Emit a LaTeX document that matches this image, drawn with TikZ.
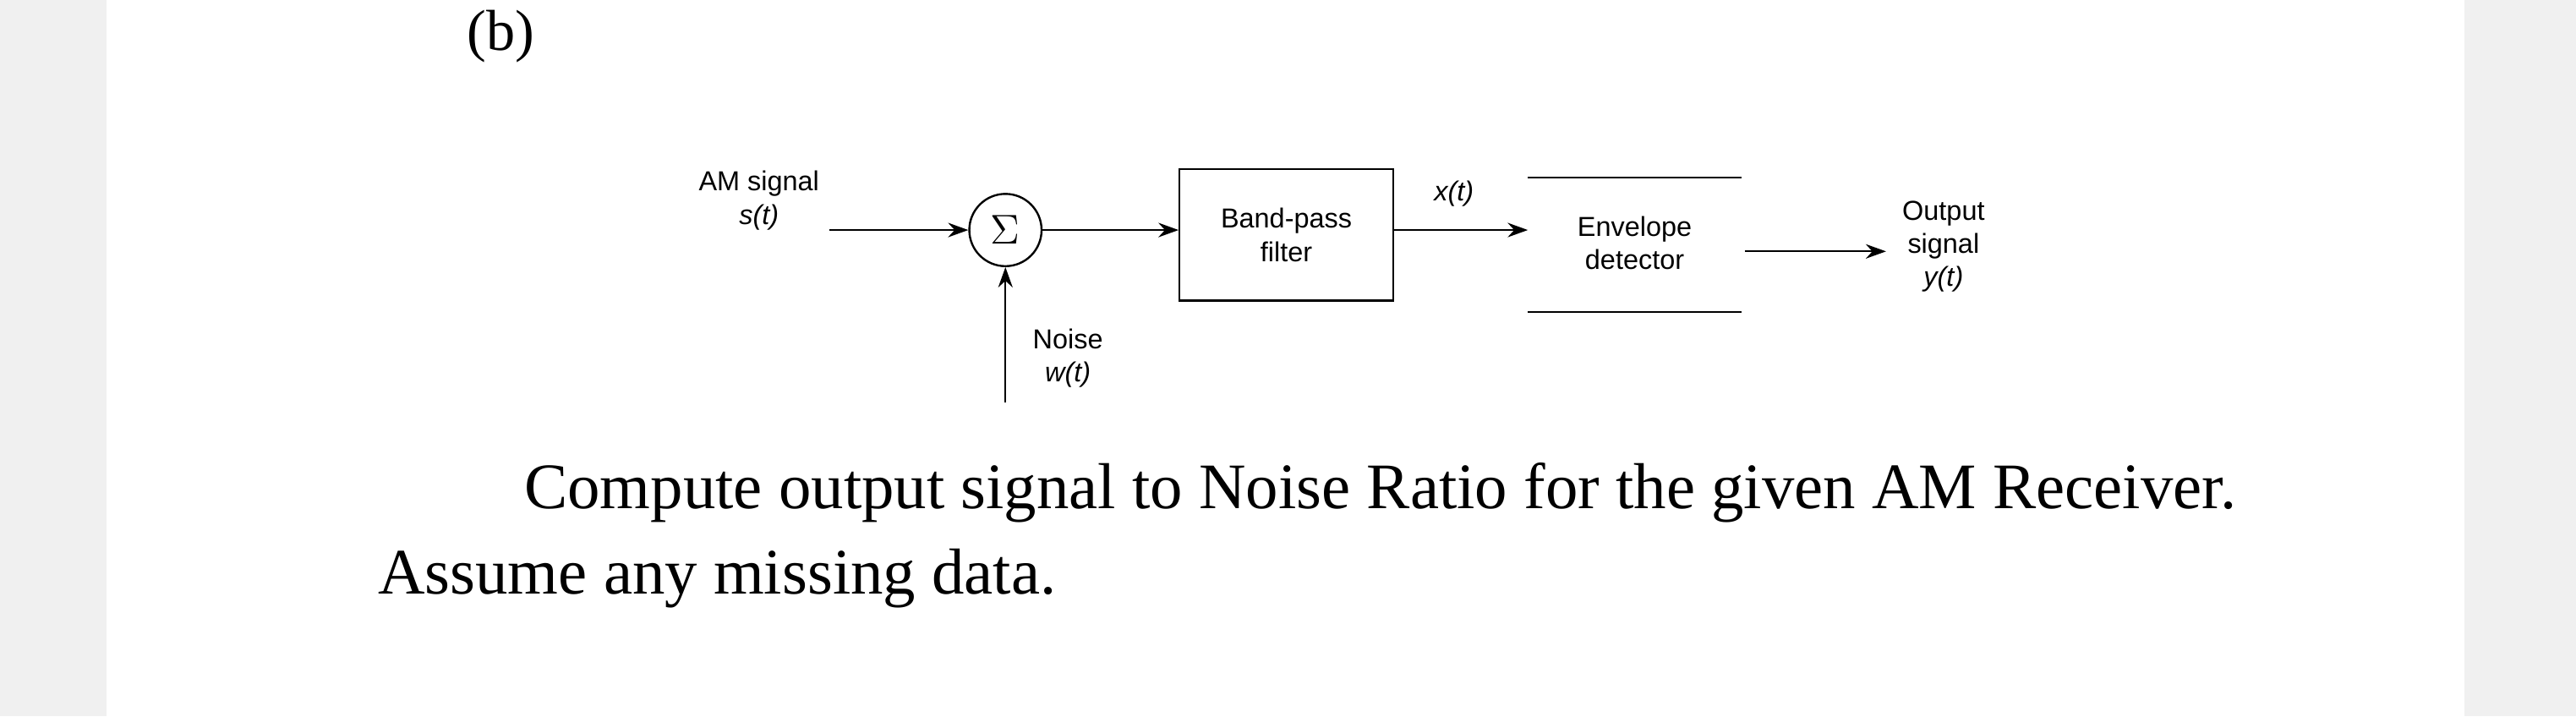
\documentclass[tikz,border=0pt]{standalone}
\usepackage{fontspec}
\setmainfont{Liberation Serif}
\newfontfamily\lsans{Liberation Sans}
\usetikzlibrary{arrows.meta}
\begin{document}
\begin{tikzpicture}[x=0.02cm,y=-0.02cm,
  lab/.style={font=\lsans\fontsize{9.5}{11.5}\selectfont,align=center,inner sep=0},
  sig/.style={-{Stealth[length=7pt,width=5pt]},line width=0.6pt},
  blk/.style={draw,line width=0.7pt,minimum width=2.6cm,minimum height=1.6cm,font=\lsans\fontsize{9.5}{11.5}\selectfont,align=center}]
\fill[gray!12] (0,0) rectangle (1568,436);
\fill[white] (65,0) rectangle (1500,436);
\useasboundingbox (0,0) rectangle (1568,436);
\node[font=\fontsize{20}{24}\selectfont] (b) at (305,22) {(b)};
\node[lab] (am) at (462,122) {AM signal\\\textit{s(t)}};
\node[draw,circle,minimum size=0.88cm,inner sep=0,line width=0.7pt,font=\Large] (sum) at (612,140) {$\Sigma$};
\coordinate (amend) at (505,140);
\node[blk] (bpf) at (783,143) {Band-pass\\filter};
\coordinate (envin) at (930,140);
\draw[line width=0.7pt] (930,108) -- (1060,108);
\draw[line width=0.7pt] (930,190) -- (1060,190);
\node[lab] (env) at (995,148) {Envelope\\detector};
\coordinate (envout) at (1062,153);
\node[lab] (out) at (1183,150) {Output\\signal\\\textit{y(t)}};
\node[lab] (xt) at (885,118) {\textit{x(t)}};
\coordinate (nstart) at (612,245);
\node[lab] (noise) at (650,218) {Noise\\\textit{w(t)}};
\draw[sig] (amend) -- (sum);
\draw[sig] (sum) -- (bpf.west |- sum);
\draw[sig] (bpf.east |- envin) -- (envin);
\draw[sig] (envout) -- (1148,153);
\draw[sig] (nstart) -- (sum);
\node[font=\fontsize{22.5}{27}\selectfont,anchor=west] (t1) at (313,300) {Compute output signal to Noise Ratio for the given AM Receiver.};
\node[font=\fontsize{22.5}{27}\selectfont,anchor=west] (t2) at (224,352) {Assume any missing data.};
\end{tikzpicture}
\end{document}
